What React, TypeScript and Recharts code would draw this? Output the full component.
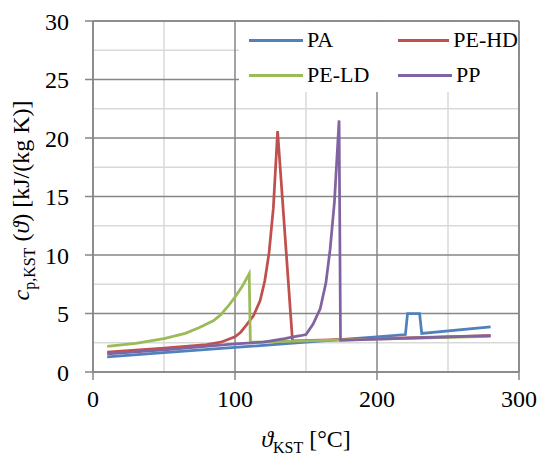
import React from 'react';
import { LineChart, Line, XAxis, YAxis, CartesianGrid } from 'recharts';

// temperature [°C] / specific heat capacity [kJ/(kg K)]
const paX = [10, 50, 100, 150, 200, 220, 221.5, 230, 231.5, 280];
const paY = [1.3, 1.65, 2.1, 2.55, 3.0, 3.2, 5.0, 5.0, 3.3, 3.85];

const hdX = [10, 50, 80, 90, 100, 104, 108, 113, 117.7, 121, 124, 127, 130, 140.5, 200, 280];
const hdY = [1.7, 2.05, 2.35, 2.55, 3.0, 3.4, 4.0, 4.8, 6.1, 7.8, 10.2, 14.0, 20.6, 2.65, 2.85, 3.1];

const ldX = [10, 30, 50, 65, 75, 85, 90, 95, 100, 105, 110, 110.8, 150, 200, 280];
const ldY = [2.2, 2.45, 2.85, 3.3, 3.8, 4.4, 4.9, 5.6, 6.4, 7.3, 8.4, 2.55, 2.65, 2.8, 3.05];

const ppX = [10, 50, 100, 120, 135, 141, 146, 150, 155, 160, 164, 167, 170, 173.3, 174.3, 200, 280];
const ppY = [1.55, 1.9, 2.4, 2.55, 2.85, 3.0, 3.1, 3.2, 4.1, 5.4, 7.6, 10.5, 14.5, 21.5, 2.7, 2.8, 3.1];

const seriesNames = ['PA', 'PE-HD', 'PE-LD', 'PP'];
const seriesColors = ['#4F81BD', '#C0504D', '#9BBB59', '#8064A2'];

const xDomain = [0, 300];
const yDomain = [0, 30];
const xTicks = [0, 100, 200, 300];
const yTicks = [0, 5, 10, 15, 20, 25, 30];
const xMinorTicks = [50, 150, 250];
const yMinorTicks = [2.5, 7.5, 12.5, 17.5, 22.5, 27.5];

const toPoints = (xs: number[], ys: number[]) => xs.map((x, i) => ({ x, y: ys[i] }));
const seriesData = [toPoints(paX, paY), toPoints(hdX, hdY), toPoints(ldX, ldY), toPoints(ppX, ppY)];

// plot frame on the top and right edge (grid may skip edge lines)
const frame = [
  [{ x: xDomain[1], y: yDomain[0] }, { x: xDomain[1], y: yDomain[1] }],
  [{ x: xDomain[0], y: yDomain[1] }, { x: xDomain[1], y: yDomain[1] }],
];

const FONT = '"Liberation Serif", Tinos, "Times New Roman", "DejaVu Serif", serif';
const tickStyle = { fill: '#000', fontSize: 24, fontFamily: FONT };
const MAJOR = '#868686';
const MINOR = '#D9D9D9';

const YTitle = (props: any) => {
  const vb = props.viewBox || { x: 0, y: 0, width: 0, height: 0 };
  const cx = 29;
  const cy = vb.y + vb.height / 2 + 4;
  return (
    <text x={cx} y={cy} transform={`rotate(-90, ${cx}, ${cy})`} textAnchor="middle"
      fontFamily={FONT} fontSize={24} fill="#000">
      <tspan fontStyle="italic">c</tspan>
      <tspan fontSize={16} dy={6}>p,KST</tspan>
      <tspan dy={-6}> (</tspan>
      <tspan fontStyle="italic">ϑ</tspan>
      <tspan>) [kJ/(kg K)]</tspan>
    </text>
  );
};

const XTitle = (props: any) => {
  const vb = props.viewBox || { x: 0, y: 0, width: 0, height: 0 };
  const cx = vb.x + vb.width / 2;
  return (
    <text x={cx} y={447} textAnchor="middle" fontFamily={FONT} fontSize={24} fill="#000">
      <tspan fontStyle="italic">ϑ</tspan>
      <tspan fontSize={16} dy={6}>KST</tspan>
      <tspan dy={-6}> [°C]</tspan>
    </text>
  );
};

const LegendBox = () => (
  <div style={{
    position: 'absolute', left: 239, top: 22, width: 279, height: 70, background: '#fff',
    display: 'grid', gridTemplateColumns: '149px 130px', gridTemplateRows: '36px 34px',
    fontFamily: FONT, fontSize: 22, color: '#000', whiteSpace: 'nowrap'
  }}>
    {seriesNames.map((name, i) => (
      <div key={name} style={{ display: 'flex', alignItems: 'center' }}>
        <div style={{ width: 54, height: 3, background: seriesColors[i], marginLeft: 10, marginRight: 4 }} />
        <span>{name}</span>
      </div>
    ))}
  </div>
);

const App: React.FC = () => {
  return (
    <div style={{ position: 'absolute', left: 0, top: 0, width: 541, height: 459, background: '#fff' }}>
      <LineChart width={541} height={459} margin={{ top: 21, right: 22, bottom: 57, left: 33 }}>
        <CartesianGrid stroke={MINOR} strokeWidth={1.5} verticalValues={xMinorTicks} horizontalValues={yMinorTicks} />
        <CartesianGrid stroke={MAJOR} strokeWidth={1.5} verticalValues={xTicks} horizontalValues={yTicks} />
        <XAxis type="number" dataKey="x" domain={xDomain} ticks={xTicks} height={30}
          tick={tickStyle} tickSize={8} tickMargin={10}
          axisLine={{ stroke: MAJOR, strokeWidth: 1.5 }} tickLine={{ stroke: MAJOR, strokeWidth: 1.5 }}
          label={<XTitle />} />
        <YAxis type="number" domain={yDomain} ticks={yTicks} width={60}
          tick={tickStyle} tickSize={8} tickMargin={16}
          axisLine={{ stroke: MAJOR, strokeWidth: 1.5 }} tickLine={{ stroke: MAJOR, strokeWidth: 1.5 }}
          label={<YTitle />} />
        {frame.map((d, i) => (
          <Line key={'frame' + i} data={d} dataKey="y" stroke={MAJOR} strokeWidth={1.5}
            dot={false} activeDot={false} legendType="none" isAnimationActive={false} />
        ))}
        {seriesData.map((d, i) => (
          <Line key={seriesNames[i]} data={d} dataKey="y" name={seriesNames[i]} type="linear"
            stroke={seriesColors[i]} strokeWidth={2.75} dot={false} isAnimationActive={false} />
        ))}
      </LineChart>
      <LegendBox />
    </div>
  );
};

export default App;
